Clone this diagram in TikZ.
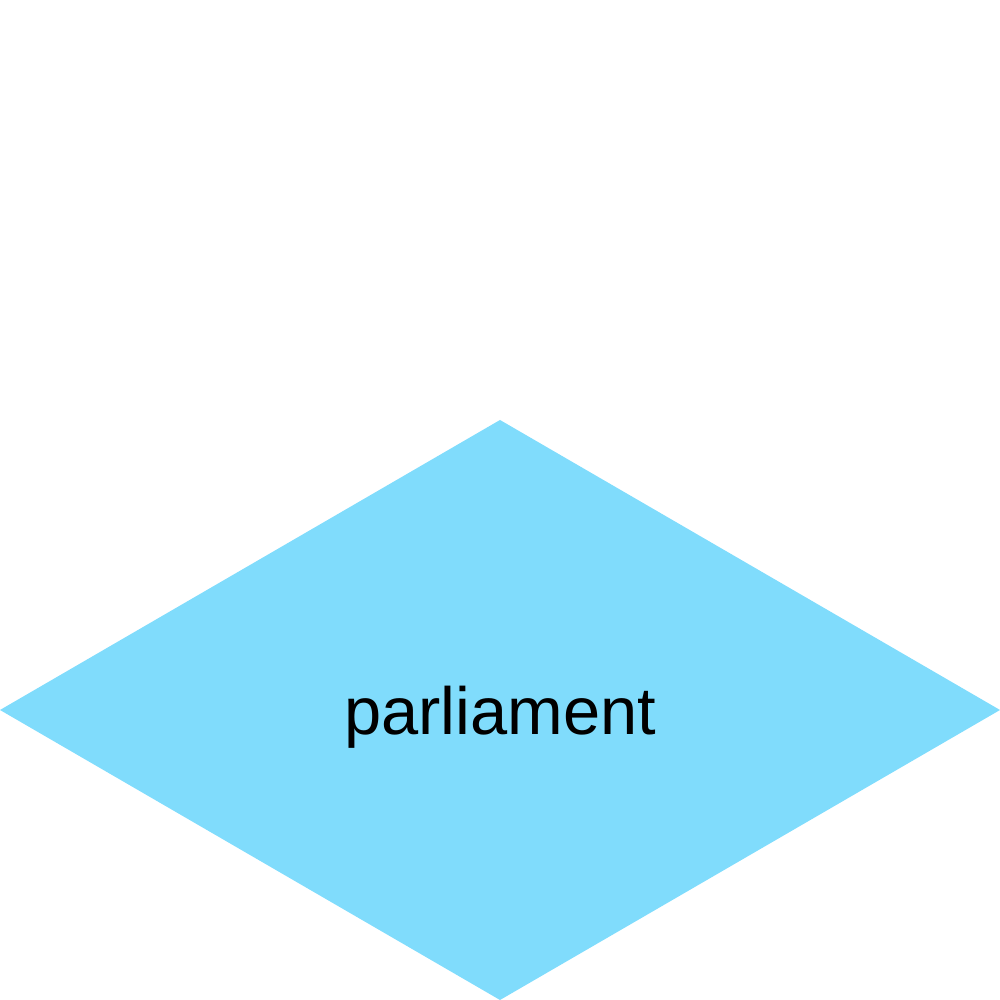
\documentclass[tikz,border=0pt]{standalone}
\usepackage{fontspec}
\setmainfont{Liberation Sans}
\begin{document}
\begin{tikzpicture}
\definecolor{dblue}{HTML}{80DCFC}
\tikzset{lbl/.style={font=\fontsize{19pt}{22pt}\selectfont, text=black, inner sep=0pt}}
\useasboundingbox (0,0) rectangle (10,10);
\coordinate (L) at (0,2.9);
\coordinate (T) at (5,5.8);
\coordinate (R) at (10,2.9);
\coordinate (B) at (5,0);
\fill[dblue] (L) -- (T) -- (R) -- (B) -- cycle;
\node[lbl, anchor=base] (p) at (5,2.65) {parliament};
\end{tikzpicture}
\end{document}
